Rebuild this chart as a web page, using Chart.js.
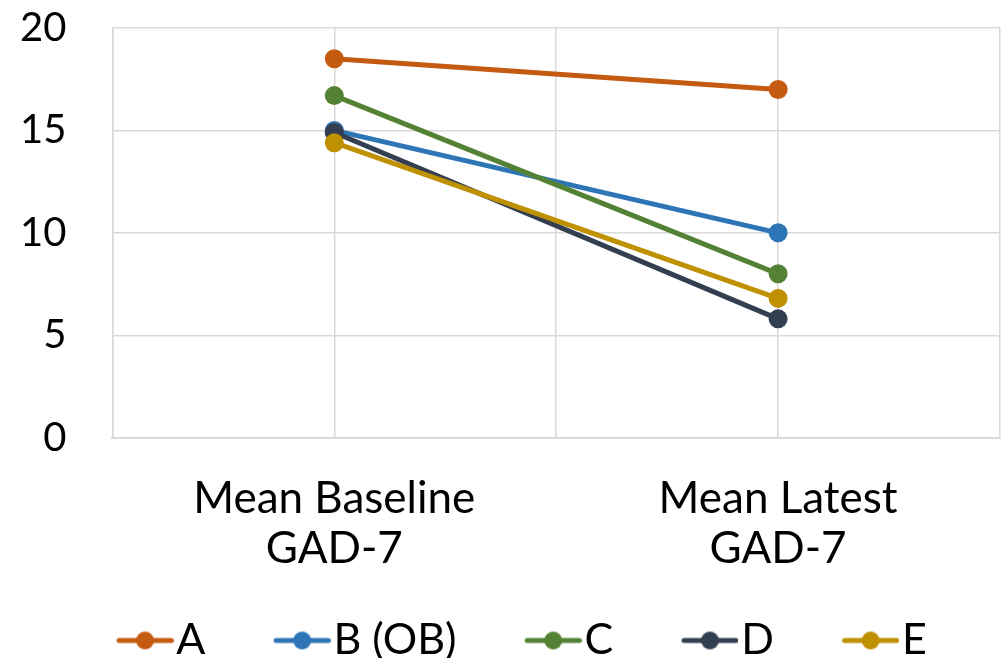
<!DOCTYPE html>
<html>
<head>
<meta charset="utf-8">
<script src="https://cdn.jsdelivr.net/npm/chart.js@4/dist/chart.umd.min.js"></script>
<style>
html,body{margin:0;padding:0;background:#fff;overflow:hidden;}
#wrap{width:1001px;height:658px;position:relative;}
</style>
</head>
<body>
<div id="wrap"><canvas id="c" width="1001" height="658"></canvas></div>
<script>
// ---- data ----
const categories = [["Mean Baseline", "GAD-7"], ["Mean Latest", "GAD-7"]];
const seriesNames = ["A", "B (OB)", "C", "D", "E"];
const seriesA = [18.5, 17.0];
const seriesB = [15.0, 10.0];
const seriesC = [16.7, 8.0];
const seriesD = [14.9, 5.8];
const seriesE = [14.4, 6.8];
const yTicks = [0, 5, 10, 15, 20];
const colors = ["#C55A11", "#2E75B6", "#548235", "#333F50", "#BF9000"];

const allSeries = [seriesA, seriesB, seriesC, seriesD, seriesE];
const FONT = "Lato";

// legend geometry
const LEG_FONT = 43;
const LEG_PAD = 29;          // space between items
const ICON_LEN = 57;         // legend line length
const ICON_GAP = 3;          // icon -> text
const ITEM_GAP = 68;         // text -> next icon
const LEG_BOX = ITEM_GAP - LEG_PAD + ICON_LEN + ICON_GAP - LEG_FONT / 2;

function legendIcon(color) {
  const W = Math.round(LEG_BOX + LEG_FONT - 2 * ICON_GAP);
  const cv = document.createElement('canvas');
  cv.width = W; cv.height = 24;
  const g = cv.getContext('2d');
  g.strokeStyle = color; g.lineWidth = 5; g.lineCap = 'round';
  g.beginPath(); g.moveTo(W - ICON_LEN + 2.5, 12); g.lineTo(W - 2.5, 12); g.stroke();
  g.fillStyle = color;
  g.beginPath(); g.arc(W - ICON_LEN / 2, 12, 9, 0, Math.PI * 2); g.fill();
  return cv;
}

const datasets = allSeries.map((vals, i) => ({
  label: seriesNames[i],
  data: vals.map((v, j) => ({x: j, y: v})),
  borderColor: colors[i],
  backgroundColor: colors[i],
  pointBackgroundColor: colors[i],
  pointBorderColor: colors[i],
  borderWidth: 5,
  pointRadius: 9.5,
  pointBorderWidth: 0,
  order: allSeries.length - i,
  _icon: legendIcon(colors[i])
}));

const legendShift = {
  id: 'legendShift',
  afterLayout(chart) {
    const l = chart.legend;
    const dy = 16, dx = -8;
    l.top += dy; l.bottom += dy; l.left += dx; l.right += dx;
  }
};

new Chart(document.getElementById('c'), {
  type: 'line',
  data: { datasets },
  plugins: [legendShift],
  options: {
    responsive: false,
    animation: false,
    layout: { autoPadding: false, padding: { left: 20, right: 1, top: 28, bottom: 2 } },
    scales: {
      x: {
        type: 'linear',
        min: -0.5, max: 1.5,
        afterBuildTicks: (s) => { s.ticks = [-0.5, 0, 0.5, 1, 1.5].map(v => ({value: v})); },
        grid: { color: '#D9D9D9', lineWidth: 1.5, drawTicks: true, tickLength: 36, tickColor: 'rgba(0,0,0,0)' },
        border: { color: '#D9D9D9', width: 2 },
        ticks: {
          padding: 0,
          autoSkip: false,
          maxRotation: 0,
          color: '#000',
          font: { family: FONT, size: 44, lineHeight: 1.14 },
          callback: (v) => Number.isInteger(v) ? categories[v] : ''
        }
      },
      y: {
        min: 0, max: 20,
        afterBuildTicks: (s) => { s.ticks = yTicks.map(v => ({value: v})); },
        grid: { color: '#D9D9D9', lineWidth: 1.5, drawTicks: true, tickLength: 46, tickColor: 'rgba(0,0,0,0)' },
        border: { color: '#D9D9D9', width: 1.5 },
        ticks: {
          padding: 0,
          color: '#000',
          font: { family: FONT, size: 40 }
        }
      }
    },
    plugins: {
      tooltip: { enabled: false },
      legend: {
        position: 'bottom',
        labels: {
          usePointStyle: true,
          pointStyleWidth: LEG_BOX,
          padding: LEG_PAD,
          color: '#000',
          font: { family: FONT, size: LEG_FONT },
          generateLabels: (chart) => chart.data.datasets.map((ds, i) => ({
            text: ds.label,
            pointStyle: ds._icon,
            fillStyle: ds.borderColor,
            strokeStyle: ds.borderColor,
            lineWidth: 0,
            fontColor: '#000',
            hidden: false,
            datasetIndex: i
          }))
        }
      }
    }
  }
});
</script>
</body>
</html>
